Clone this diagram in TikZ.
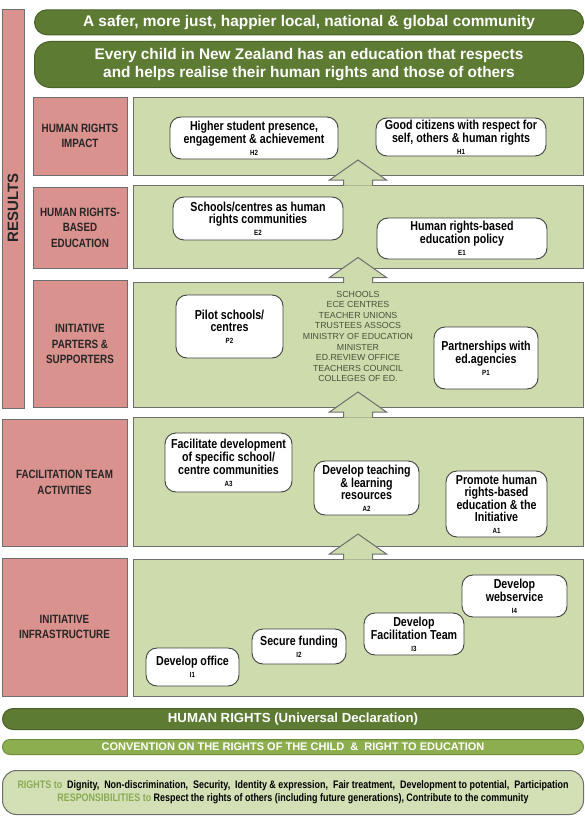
\documentclass[tikz,border=0pt]{standalone}
\usepackage{fontspec}
\setmainfont{Liberation Sans}
\newfontfamily\narrowfont[FakeStretch=0.82]{Liberation Sans}
\definecolor{banner}{HTML}{5E7B33}
\definecolor{bannerline}{HTML}{4A6229}
\definecolor{midgreen}{HTML}{8DAE4E}
\definecolor{midline}{HTML}{6E8E3A}
\definecolor{panelgreen}{HTML}{CEDCAD}
\definecolor{rightsfill}{HTML}{D3E0B6}
\definecolor{rose}{HTML}{D9928E}
\definecolor{frame}{HTML}{6E6E6E}
\definecolor{leaf}{HTML}{8AAA52}
\definecolor{listtext}{HTML}{46523A}
\newcommand{\cod}[1]{{\fontsize{7.5}{8}\selectfont #1}}
\newcommand{\growth}[1]{\filldraw[fill=panelgreen, draw=frame, line width=1pt] ([xshift=-14.5pt,yshift=-0.7pt]#1.north) -- ++(0,-5.7) -- ++(-14,0) -- ++(28.5,-20) -- ++(28.5,20) -- ++(-14,0) -- ++(0,5.7);}
\begin{document}
\begin{tikzpicture}[x=1pt, y=-1pt,
		greenrow/.style={draw=frame, fill=panelgreen, line width=1pt, anchor=north west, minimum width=450pt, outer sep=0pt, inner sep=0pt},
		rowtag/.style={draw=frame, fill=rose, line width=1pt, anchor=north west, outer sep=0pt, inner sep=1pt, align=center, text=black!85, font=\narrowfont\bfseries\fontsize{12}{15.5}\selectfont},
		goal/.style={draw=black!75, fill=white, rounded corners=11pt, line width=0.9pt, inner sep=1pt, align=center, font=\narrowfont\bfseries\fontsize{13}{12}\selectfont},
		band/.style={draw=bannerline, fill=banner, line width=1pt, anchor=north west, inner sep=1pt, text=white, align=center}]
	\useasboundingbox (0,0) rectangle (585,816);

	\node[band, minimum width=549pt, minimum height=25pt, rounded corners=12.5pt, font=\bfseries\fontsize{15.4}{18}\selectfont] (community) at (34,9.3) {A safer, more just, happier local, national \& global community};
	\node[band, minimum width=549pt, minimum height=46pt, rounded corners=16pt, font=\bfseries\fontsize{15.4}{18}\selectfont] (everychild) at (34,41) {Every child in New Zealand has an education that respects\\and helps realise their human rights and those of others};

	\node[rowtag, minimum width=22pt, minimum height=398pt] (results) at (2,10) {};
	\node[rotate=90, text=black!85, font=\bfseries\fontsize{15}{15}\selectfont] (resultstext) at (13,208) {RESULTS};

	\node[rowtag, minimum width=94pt, minimum height=78pt] (impacttag) at (33,97) {HUMAN RIGHTS\\IMPACT};
	\node[rowtag, minimum width=94pt, minimum height=80.5pt] (basedtag) at (33,187.5) {HUMAN RIGHTS-\\BASED\\EDUCATION};
	\node[rowtag, minimum width=94pt, minimum height=127pt] (partnertag) at (33,280.5) {INITIATIVE\\PARTERS \&\\SUPPORTERS};
	\node[rowtag, minimum width=125pt, minimum height=127pt] (activitytag) at (2,419) {FACILITATION TEAM\\ACTIVITIES};
	\node[rowtag, minimum width=125pt, minimum height=138pt] (infratag) at (2,558) {INITIATIVE\\INFRASTRUCTURE};

	\node[greenrow, minimum height=78pt] (impact) at (133,97) {};
	\node[greenrow, minimum height=83pt] (based) at (133,185) {};
	\node[greenrow, minimum height=125pt] (partners) at (133,282.5) {};
	\node[greenrow, minimum height=129pt] (activities) at (133,417) {};
	\node[greenrow, minimum height=137pt] (infra) at (133,559) {};

	\growth{based}
	\growth{partners}
	\growth{activities}
	\growth{infra}

	\node[goal, minimum width=168pt, minimum height=42pt] (h2) at (254,138) {Higher student presence,\\engagement \& achievement\\\cod{H2}};
	\node[goal, minimum width=170pt, minimum height=38pt] (h1) at (461,137) {Good citizens with respect for\\self, others \& human rights\\\cod{H1}};
	\node[goal, minimum width=170pt, minimum height=43pt] (e2) at (258,218.5) {Schools/centres as human\\rights communities\\\cod{E2}};
	\node[goal, minimum width=170pt, minimum height=41pt] (e1) at (462,238.5) {Human rights-based\\education policy\\\cod{E1}};
	\node[goal, minimum width=107pt, minimum height=63pt] (p2) at (229.5,326.5) {Pilot schools/\\centres\\\cod{P2}};
	\node[goal, minimum width=104pt, minimum height=62pt] (p1) at (486,358) {Partnerships with\\ed.agencies\\\cod{P1}};
	\node[align=center, text=listtext, font=\fontsize{8.8}{10.6}\selectfont] (agencies) at (358,336.4) {SCHOOLS\\ECE CENTRES\\TEACHER UNIONS\\TRUSTEES ASSOCS\\MINISTRY OF EDUCATION\\MINISTER\\ED.REVIEW OFFICE\\TEACHERS COUNCIL\\COLLEGES OF ED.};
	\node[goal, minimum width=127pt, minimum height=59pt] (a3) at (228.5,462.5) {Facilitate development\\of specific school/\\centre communities\\\cod{A3}};
	\node[goal, minimum width=105pt, minimum height=54pt] (a2) at (366.5,488) {Develop teaching\\\& learning\\resources\\\cod{A2}};
	\node[goal, minimum width=101pt, minimum height=66pt] (a1) at (496.5,504) {Promote human\\rights-based\\education \& the\\Initiative\\\cod{A1}};
	\node[goal, minimum width=105pt, minimum height=42pt] (i4) at (514.5,596) {Develop\\webservice\\\cod{I4}};
	\node[goal, minimum width=100pt, minimum height=42pt] (i3) at (414,634) {Develop\\Facilitation Team\\\cod{I3}};
	\node[goal, minimum width=94pt, minimum height=35pt] (i2) at (299,646.5) {Secure funding\\\cod{I2}};
	\node[goal, minimum width=93pt, minimum height=38pt] (i1) at (192.5,667) {Develop office\\\cod{I1}};

	\node[band, minimum width=581pt, minimum height=21pt, rounded corners=10.5pt, font=\bfseries\fontsize{13.2}{14}\selectfont] (humanrights) at (2,708) {HUMAN RIGHTS (Universal Declaration)};
	\node[band, draw=midline, fill=midgreen, minimum width=581pt, minimum height=15pt, rounded corners=7.5pt, font=\bfseries\fontsize{11}{12}\selectfont] (crc) at (2,739) {CONVENTION ON THE RIGHTS OF THE CHILD ~\&~ RIGHT TO EDUCATION};
	\node[draw=frame, fill=rightsfill, line width=1pt, rounded corners=14pt, anchor=north west, minimum width=581pt, minimum height=44pt, inner sep=1pt, align=center, font=\narrowfont\bfseries\fontsize{10.9}{13}\selectfont] (rights) at (2,770) {\textcolor{leaf}{RIGHTS to}~ Dignity, ~Non-discrimination, ~Security, ~Identity \& expression, ~Fair treatment, ~Development to potential, ~Participation\\\textcolor{leaf}{RESPONSIBILITIES to} Respect the rights of others (including future generations), Contribute to the community};
\end{tikzpicture}
\end{document}
